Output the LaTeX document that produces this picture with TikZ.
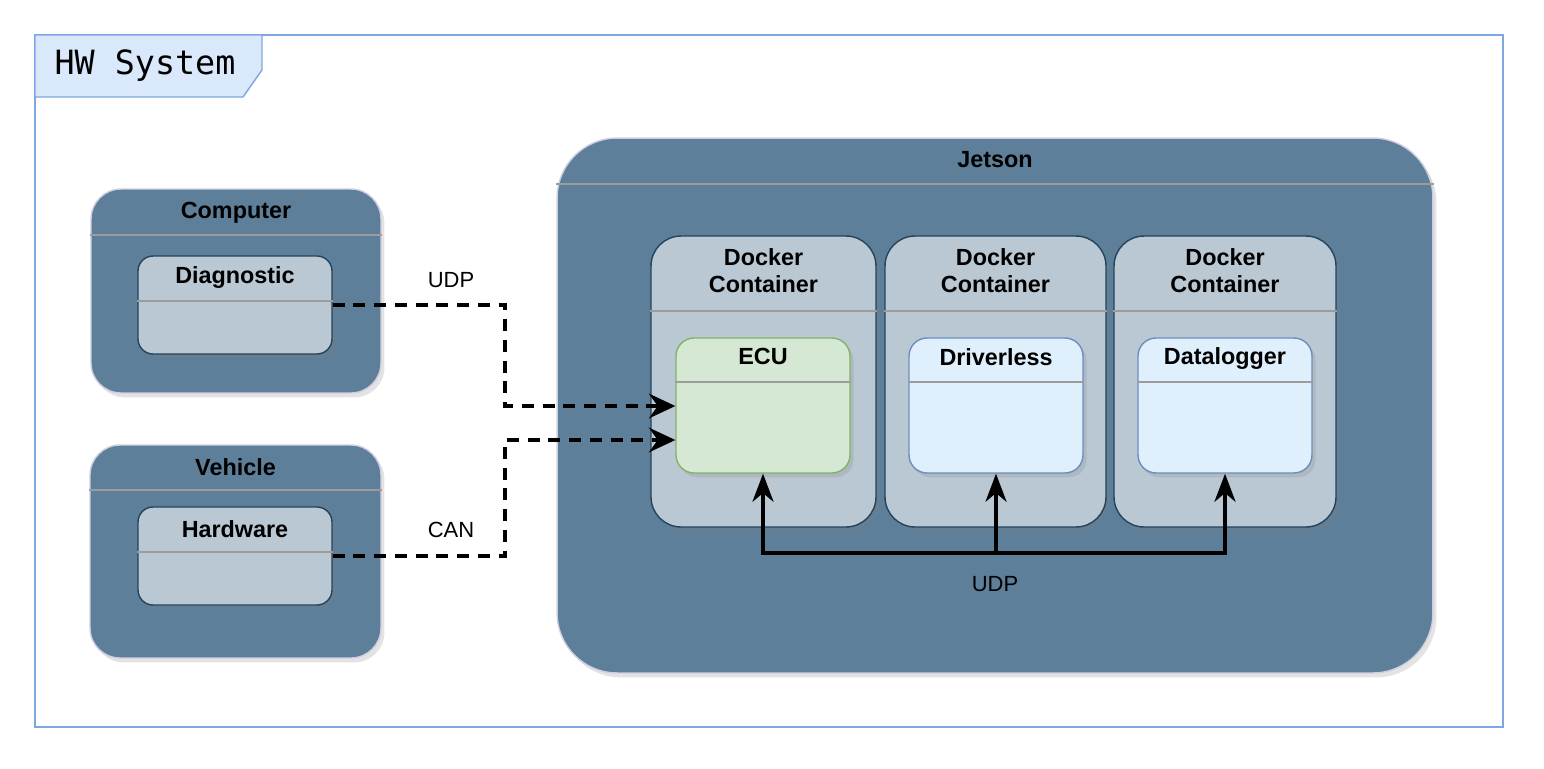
\documentclass[tikz,border=0pt]{standalone}
\usepackage{fontspec}
\setmainfont{Liberation Sans}
\newfontfamily\hwmono{DejaVu Sans Mono}
\usetikzlibrary{arrows.meta,shadows,calc}
\definecolor{framecol}{HTML}{7EA6E0}
\definecolor{tabfill}{HTML}{DAE8FC}
\definecolor{hostfill}{HTML}{5D7F99}
\definecolor{hostline}{HTML}{D0CEE2}
\definecolor{partfill}{HTML}{BAC8D3}
\definecolor{partline}{HTML}{23445D}
\definecolor{ecufill}{HTML}{D5E8D4}
\definecolor{eculine}{HTML}{82B366}
\definecolor{appfill}{HTML}{DFEFFC}
\definecolor{appline}{HTML}{6C8EBF}
\definecolor{sepcol}{HTML}{9C9C9C}
\tikzset{
  shd/.style={drop shadow={shadow xshift=2pt,shadow yshift=-2.5pt,opacity=0.22}},
  host/.style={draw=hostline,fill=hostfill,line width=0.8pt,rounded corners=0.6cm,shd},
  part/.style={draw=partline,fill=partfill,line width=0.8pt,rounded corners=0.3cm,shd},
  dock/.style={draw=partline,fill=partfill,line width=0.8pt,rounded corners=0.6cm,shd},
  app/.style={draw=appline,fill=appfill,line width=0.8pt,rounded corners=0.36cm,shd},
  ttl/.style={font=\fontsize{13.3}{15.5}\selectfont\bfseries,align=center,inner sep=0pt},
  lbl/.style={font=\fontsize{12.5}{15}\selectfont,inner sep=0pt},
  sepline/.style={draw=sepcol,line width=1.1pt},
  link/.style={line width=2pt,dash pattern=on 6.8pt off 5pt,-{Stealth[length=15pt,width=14pt,inset=5pt]}},
  bus/.style={line width=2pt,-{Stealth[length=16pt,width=12pt,inset=5pt]}}
}
\newcommand\sepat[2]{\draw[sepline] ([yshift=-#2]#1.north west) -- ([yshift=-#2]#1.north east);}
\begin{document}
\begin{tikzpicture}[x=0.02cm,y=-0.02cm]
\useasboundingbox[fill=white] (0,0) rectangle (1544,768);
\draw[framecol,line width=0.8pt] (35,35) rectangle (1503,727);
\draw[framecol,fill=tabfill,line width=0.8pt] (35,35) -- (262,35) -- (262,70) -- (243,97) -- (35,97) -- cycle;
\node[inner sep=0pt,font=\fontsize{19}{21}\selectfont\hwmono] (hwsys) at (145,66) {HW System};

\node[host,minimum width=5.8cm,minimum height=4.08cm] (comp) at (236,291) {};
\sepat{comp}{0.94cm}
\node[ttl] (compt) at ([yshift=-0.48cm]comp.north) {Computer};
\node[part,minimum width=3.88cm,minimum height=1.96cm] (diag) at (235,305) {};
\sepat{diag}{0.92cm}
\node[ttl] (diagt) at ([yshift=-0.45cm]diag.north) {Diagnostic};

\node[host,minimum width=5.82cm,minimum height=4.26cm] (veh) at (235.5,551.5) {};
\sepat{veh}{0.92cm}
\node[ttl] (veht) at ([yshift=-0.45cm]veh.north) {Vehicle};
\node[part,minimum width=3.88cm,minimum height=1.96cm] (hw) at (235,556) {};
\sepat{hw}{0.92cm}
\node[ttl] (hwt) at ([yshift=-0.45cm]hw.north) {Hardware};

\node[host,rounded corners=1.2cm,minimum width=17.52cm,minimum height=10.7cm] (jet) at (995,405.5) {};
\sepat{jet}{0.94cm}
\node[ttl] (jett) at ([yshift=-0.45cm]jet.north) {Jetson};

\node[dock,minimum width=4.5cm,minimum height=5.82cm] (dock1) at (763.5,381.5) {};
\node[dock,minimum width=4.42cm,minimum height=5.82cm] (dock2) at (995.5,381.5) {};
\node[dock,minimum width=4.44cm,minimum height=5.82cm] (dock3) at (1225,381.5) {};
\foreach \d in {dock1,dock2,dock3}{
  \sepat{\d}{1.52cm}
  \node[ttl] (\d t) at ([yshift=-0.7cm]\d.north) {Docker\\Container};
}

\node[app,draw=eculine,fill=ecufill,minimum width=3.48cm,minimum height=2.7cm] (ecu) at (763,405.5) {};
\node[app,minimum width=3.48cm,minimum height=2.7cm] (drv) at (996,405.5) {};
\node[app,minimum width=3.48cm,minimum height=2.7cm] (dlog) at (1225,405.5) {};
\sepat{ecu}{0.9cm}
\sepat{drv}{0.9cm}
\sepat{dlog}{0.9cm}
\node[ttl] (ecut) at ([yshift=-0.39cm]ecu.north) {ECU};
\node[ttl] (drvt) at ([yshift=-0.39cm]drv.north) {Driverless};
\node[ttl] (dlogt) at ([yshift=-0.42cm]dlog.north) {Datalogger};

\coordinate (udpbend) at (505,406);
\coordinate (canbend) at (505,440);
\draw[link] (diag.east) -| (udpbend) -- (ecu.west |- udpbend);
\draw[link] (hw.east) -| (canbend) -- (ecu.west |- canbend);
\node[lbl] (udp1) at (451,280) {UDP};
\node[lbl] (can) at (451,530) {CAN};

\coordinate (busmid) at (996,553);
\draw[bus] (busmid) -| (ecu.south);
\draw[bus] (busmid) -- (drv.south);
\draw[bus] (busmid) -| (dlog.south);
\node[lbl] (udp2) at (995,584) {UDP};
\end{tikzpicture}
\end{document}
